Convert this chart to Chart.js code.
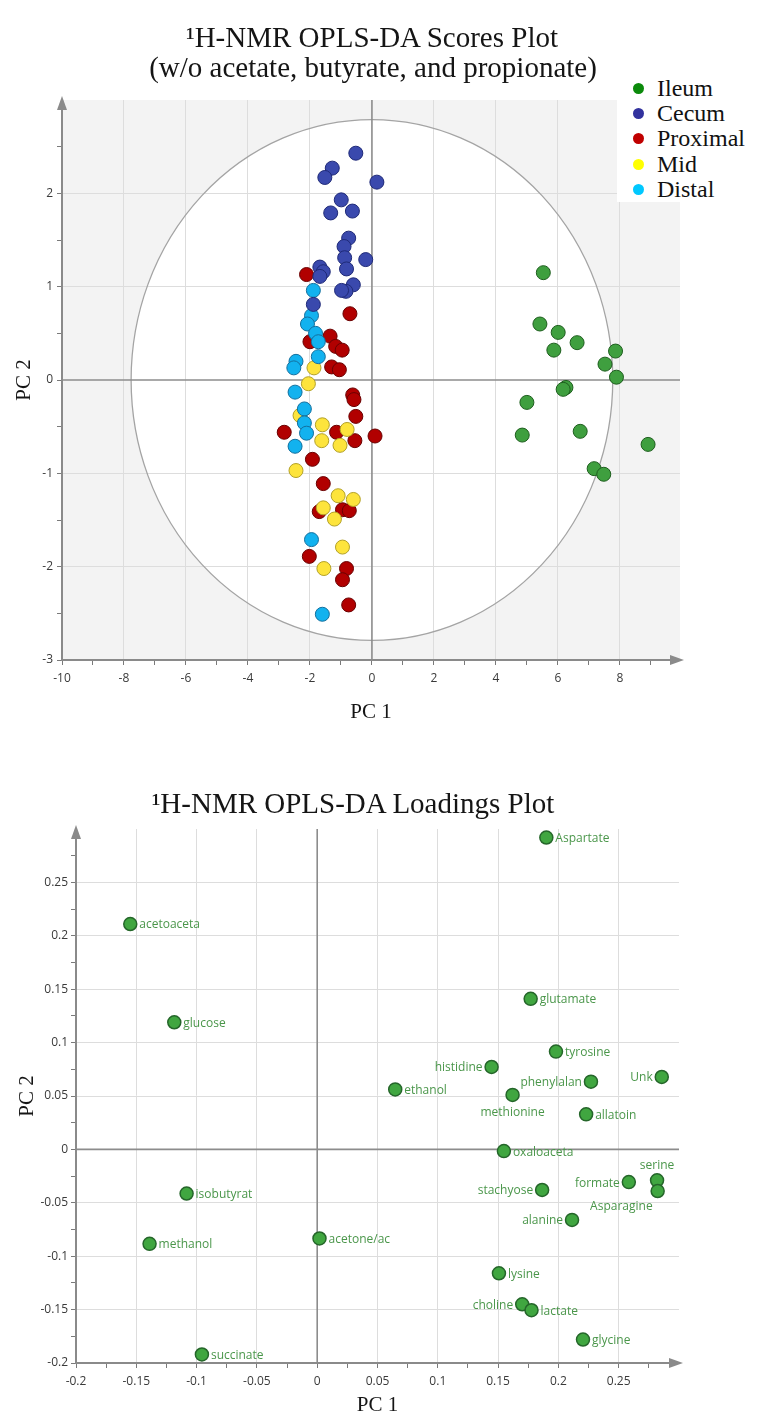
<!DOCTYPE html>
<html><head><meta charset="utf-8">
<script src="https://cdn.jsdelivr.net/npm/chart.js@4.4.1/dist/chart.umd.min.js"></script>
<style>
html,body{margin:0;padding:0;background:#fff;}
body{width:763px;height:1420px;position:relative;overflow:hidden;font-family:'Liberation Serif','Times New Roman',serif;color:#111;}
.wrap{position:absolute;left:0;width:763px;}
#w1{top:0;height:725px;}
#w2{top:725px;height:695px;}
.ttl{position:absolute;text-align:center;font-size:29px;line-height:30px;white-space:nowrap;color:#151515;}
#legend{position:absolute;left:617px;top:74px;width:136px;height:128px;background:#fff;}
.li{position:absolute;left:0;height:25px;font-size:24px;line-height:25px;}
.dot{position:absolute;left:16px;top:7px;width:11px;height:11px;border-radius:50%;}
.lt{position:absolute;left:40px;top:0;}
</style>
</head><body>
<div class="wrap" id="w1"><canvas id="c1" width="763" height="725"></canvas></div>
<div class="wrap" id="w2"><canvas id="c2" width="763" height="695"></canvas></div>
<div class="ttl" style="left:0;width:744px;top:22px;">¹H-NMR OPLS-DA Scores Plot</div>
<div class="ttl" style="left:0;width:746px;top:52px;">(w/o acetate, butyrate, and propionate)</div>
<div class="ttl" style="left:0;width:706px;top:788px;">¹H-NMR OPLS-DA Loadings Plot</div>
<div id="legend"></div>
<script>
// ---------- Scores plot data (PC1, PC2) ----------
const groupNames = ['Ileum','Cecum','Proximal','Mid','Distal'];
const ileumX = [5.53,5.42,6.01,6.62,5.87,7.86,7.52,7.89,6.26,6.17,5.00,4.85,6.72,8.91,7.17,7.48];
const ileumY = [1.15,0.60,0.51,0.40,0.32,0.31,0.17,0.03,-0.08,-0.10,-0.24,-0.59,-0.55,-0.69,-0.95,-1.01];
const cecumX = [-0.52,-1.28,-1.52,0.16,-0.99,-0.63,-1.33,-0.75,-0.90,-0.88,-0.20,-0.82,-1.68,-1.57,-1.68,-0.60,-0.84,-0.98,-1.89];
const cecumY = [2.43,2.27,2.17,2.12,1.93,1.81,1.79,1.52,1.43,1.31,1.29,1.19,1.21,1.16,1.11,1.02,0.95,0.96,0.81];
const proxX = [-2.11,-0.71,-1.35,-2.00,-1.17,-0.96,-1.30,-1.05,-0.62,-0.58,-0.52,-2.83,-1.14,-0.55,0.10,-1.92,-1.57,-1.70,-0.95,-0.73,-2.02,-0.82,-0.95,-0.75];
const proxY = [1.13,0.71,0.47,0.41,0.36,0.32,0.14,0.11,-0.16,-0.21,-0.39,-0.56,-0.56,-0.65,-0.60,-0.85,-1.11,-1.41,-1.39,-1.40,-1.89,-2.02,-2.14,-2.41];
const midX = [-1.87,-2.05,-2.32,-1.60,-0.80,-1.62,-1.03,-2.45,-1.09,-0.60,-1.57,-1.21,-0.95,-1.55];
const midY = [0.13,-0.04,-0.38,-0.48,-0.53,-0.65,-0.70,-0.97,-1.24,-1.28,-1.37,-1.49,-1.79,-2.02];
const distX = [-1.89,-1.95,-2.08,-1.82,-1.73,-1.73,-2.45,-2.52,-2.48,-2.18,-2.18,-2.11,-2.48,-1.95,-1.60];
const distY = [0.96,0.69,0.60,0.50,0.41,0.25,0.20,0.13,-0.13,-0.31,-0.46,-0.57,-0.71,-1.71,-2.51];
// Hotelling ellipse semi-axes (PC1, PC2)
const ellipseA = 7.77, ellipseB = 2.79;
const scoresXTicks = [-10,-8,-6,-4,-2,0,2,4,6,8];
const scoresYTicks = [-3,-2,-1,0,1,2];

// ---------- Loadings plot data ----------
const metNames = ['acetoaceta','glucose','Aspartate','glutamate','tyrosine','histidine','phenylalan','Unk','ethanol','methionine','allatoin','oxaloaceta','serine','Asparagine','formate','stachyose','alanine','lysine','choline','lactate','glycine','isobutyrat','methanol','acetone/ac','succinate'];
const loadX = [-0.155,-0.1185,0.190,0.177,0.198,0.1446,0.227,0.2857,0.0647,0.162,0.223,0.1548,0.2818,0.2823,0.2584,0.1865,0.2113,0.1507,0.170,0.1777,0.2204,-0.1083,-0.139,0.0019,-0.0956];
const loadY = [0.211,0.119,0.292,0.141,0.0916,0.0772,0.0634,0.0678,0.0562,0.051,0.0328,-0.0016,-0.029,-0.039,-0.0306,-0.038,-0.066,-0.116,-0.145,-0.1506,-0.178,-0.0413,-0.0884,-0.0834,-0.192];
const labelSide = ['R','R','R','R','R','L','L','L','R','B','R','R','A','BL','L','L','L','R','L','R','R','R','R','R','R'];
const loadXTicks = [-0.2,-0.15,-0.1,-0.05,0,0.05,0.1,0.15,0.2,0.25];
const loadYTicks = [-0.2,-0.15,-0.1,-0.05,0,0.05,0.1,0.15,0.2,0.25];

// ---------- styles ----------
const groupStyle = {
  Ileum:    {fill:'#3f9f3f', border:'#1e5e1e', legend:'#0b8a0b'},
  Cecum:    {fill:'#3a49ad', border:'#1f2a78', legend:'#32329e'},
  Proximal: {fill:'#b10000', border:'#6a0000', legend:'#c00000'},
  Mid:      {fill:'#fde43c', border:'#b3a128', legend:'#ffff00'},
  Distal:   {fill:'#12b2ef', border:'#14709e', legend:'#00c8ff'}
};
const groupX = {Ileum:ileumX, Cecum:cecumX, Proximal:proxX, Mid:midX, Distal:distX};
const groupY = {Ileum:ileumY, Cecum:cecumY, Proximal:proxY, Mid:midY, Distal:distY};
const drawOrder = {Cecum:1, Distal:2, Mid:3, Proximal:4, Ileum:5};

// legend (HTML)
const lg = document.getElementById('legend');
groupNames.forEach((g,i)=>{
  const d = document.createElement('div'); d.className='li'; d.style.top=(2+i*25.2)+'px';
  d.innerHTML = '<span class="dot" style="background:'+groupStyle[g].legend+'"></span><span class="lt">'+g+'</span>';
  lg.appendChild(d);
});

function pts(xs, ys){ return xs.map((x,i)=>({x:x, y:ys[i]})); }
function r3(v){ return Math.round(v*1000)/1000; }
function tickRange(min, max, step){ const out=[]; const n=Math.round((max-min)/step); for(let i=0;i<=n;i++) out.push(r3(min+i*step)); return out; }

const TICK_FONT = {family:"'Open Sans', 'DejaVu Sans', sans-serif", size:12};
const AX_TITLE_FONT = {family:"'Liberation Serif', serif", size:21, lineHeight:1.2};

const axesPlugin = {
  id:'axesDeco',
  beforeDraw(chart, args, opts){
    if(!opts.ellipse) return;
    const {ctx, chartArea:a, scales:{x,y}} = chart;
    ctx.save();
    ctx.fillStyle = '#f3f3f3';
    ctx.fillRect(a.left, a.top, a.right-a.left, a.bottom-a.top);
    const cx = x.getPixelForValue(0), cy = y.getPixelForValue(0);
    const rx = x.getPixelForValue(ellipseA)-cx, ry = cy-y.getPixelForValue(ellipseB);
    ctx.beginPath(); ctx.ellipse(cx,cy,rx,ry,0,0,Math.PI*2);
    ctx.fillStyle = '#ffffff'; ctx.fill();
    ctx.restore();
  },
  beforeDatasetsDraw(chart, args, opts){
    const {ctx, chartArea:a, scales:{x,y}} = chart;
    ctx.save();
    if(opts.ellipse){
      const cx = x.getPixelForValue(0), cy = y.getPixelForValue(0);
      const rx = x.getPixelForValue(ellipseA)-cx, ry = cy-y.getPixelForValue(ellipseB);
      ctx.beginPath(); ctx.ellipse(cx,cy,rx,ry,0,0,Math.PI*2);
      ctx.strokeStyle = '#a4a4a4'; ctx.lineWidth = 1.3; ctx.stroke();
    }
    // zero lines
    ctx.strokeStyle = '#8c8c8c'; ctx.lineWidth = 1.6;
    const zx = x.getPixelForValue(0), zy = y.getPixelForValue(0);
    ctx.beginPath(); ctx.moveTo(zx, a.top); ctx.lineTo(zx, a.bottom); ctx.stroke();
    ctx.beginPath(); ctx.moveTo(a.left, zy); ctx.lineTo(a.right, zy); ctx.stroke();
    ctx.restore();
  },
  afterDraw(chart){
    const {ctx, chartArea:a} = chart;
    ctx.save();
    ctx.fillStyle = '#8a8a8a'; ctx.strokeStyle = '#8a8a8a'; ctx.lineWidth = 2;
    // x-axis arrow
    ctx.beginPath(); ctx.moveTo(a.left, a.bottom); ctx.lineTo(a.right-4, a.bottom); ctx.stroke();
    ctx.beginPath(); ctx.moveTo(a.right+4, a.bottom); ctx.lineTo(a.right-10, a.bottom-5); ctx.lineTo(a.right-10, a.bottom+5); ctx.closePath(); ctx.fill();
    // y-axis arrow
    ctx.beginPath(); ctx.moveTo(a.left, a.bottom); ctx.lineTo(a.left, a.top+4); ctx.stroke();
    ctx.beginPath(); ctx.moveTo(a.left, a.top-4); ctx.lineTo(a.left-5, a.top+10); ctx.lineTo(a.left+5, a.top+10); ctx.closePath(); ctx.fill();
    ctx.restore();
  }
};

const labelPlugin = {
  id:'ptLabels',
  afterDatasetsDraw(chart, args, opts){
    if(!opts.show) return;
    const {ctx} = chart;
    const meta = chart.getDatasetMeta(0);
    ctx.save();
    ctx.font = "12px 'Open Sans', 'DejaVu Sans', sans-serif";
    ctx.fillStyle = '#4a964a';
    ctx.textBaseline = 'middle';
    meta.data.forEach((el,i)=>{
      const name = metNames[i], side = labelSide[i];
      const px = el.x, py = el.y;
      if(side==='R'){ ctx.textAlign='left'; ctx.fillText(name, px+9, py+1); }
      else if(side==='L'){ ctx.textAlign='right'; ctx.fillText(name, px-9, py+1); }
      else if(side==='B'){ ctx.textAlign='center'; ctx.fillText(name, px, py+18); }
      else if(side==='A'){ ctx.textAlign='center'; ctx.fillText(name, px, py-15); }
      else if(side==='BL'){ ctx.textAlign='right'; ctx.fillText(name, px-5, py+16); }
    });
    ctx.restore();
  }
};

function makeScale(opts){
  const labeled = opts.labels;
  return {
    type:'linear', min:opts.min, max:opts.max,
    afterBuildTicks: s => { s.ticks = opts.all.map(v=>({value:v})); },
    afterFit: s => { if(opts.width!==undefined) s.width = opts.width; if(opts.height!==undefined) s.height = opts.height; },
    ticks:{
      autoSkip:false, maxRotation:0, minRotation:0, color:'#3a3a3a', font:TICK_FONT, padding:opts.tpad,
      callback: v => labeled.some(t=>Math.abs(t-v)<1e-9) ? String(r3(v)) : ''
    },
    grid:{
      color: c => (c.tick && labeled.some(t=>Math.abs(t-c.tick.value)<1e-9) && Math.abs(c.tick.value)>1e-9) ? '#dddddd' : 'rgba(0,0,0,0)',
      tickColor: '#7a7a7a', tickLength:5, lineWidth:1, drawTicks:true
    },
    border:{display:true, color:'#8a8a8a', width:2},
    title:{display:true, text:opts.title, color:'#151515', font:AX_TITLE_FONT, padding:opts.titlePad}
  };
}

// ---------- Chart 1: scores ----------
const scoreDatasets = groupNames.map(g=>({
  label:g, data:pts(groupX[g], groupY[g]), order:drawOrder[g],
  backgroundColor:groupStyle[g].fill, borderColor:groupStyle[g].border,
  borderWidth:1, pointRadius:7, pointHoverRadius:7
}));
new Chart(document.getElementById('c1'), {
  type:'scatter',
  data:{datasets:scoreDatasets},
  options:{
    responsive:false, animation:false, events:[],
    layout:{padding:{top:100, right:83, left:0, bottom:0}},
    plugins:{legend:{display:false}, tooltip:{enabled:false}, title:{display:false}, axesDeco:{ellipse:true}, ptLabels:{show:false}},
    scales:{
      x: makeScale({min:-10, max:9.94, all:tickRange(-10,9,1), labels:scoresXTicks, height:65, tpad:6, title:'PC 1', titlePad:{top:0,bottom:0.4}}),
      y: makeScale({min:-3, max:3, all:tickRange(-3,2.5,0.5), labels:scoresYTicks, width:62, tpad:4, title:'PC 2', titlePad:{top:12,bottom:0}})
    }
  },
  plugins:[axesPlugin, labelPlugin]
});

// ---------- Chart 2: loadings ----------
new Chart(document.getElementById('c2'), {
  type:'scatter',
  data:{datasets:[{
    label:'Loadings', data:pts(loadX, loadY),
    backgroundColor:'#40a640', borderColor:'#25662a', borderWidth:1.5, pointRadius:6.5, pointHoverRadius:6.5
  }]},
  options:{
    responsive:false, animation:false, events:[],
    layout:{padding:{top:104, right:84, left:0, bottom:0}},
    plugins:{legend:{display:false}, tooltip:{enabled:false}, title:{display:false}, axesDeco:{ellipse:false}, ptLabels:{show:true}},
    scales:{
      x: makeScale({min:-0.2, max:0.3, all:tickRange(-0.2,0.275,0.025), labels:loadXTicks, height:57, tpad:6, title:'PC 1', titlePad:{top:0,bottom:2.4}}),
      y: makeScale({min:-0.2, max:0.3, all:tickRange(-0.2,0.275,0.025), labels:loadYTicks, width:76, tpad:3, title:'PC 2', titlePad:{top:15,bottom:0}})
    }
  },
  plugins:[axesPlugin, labelPlugin]
});
</script>
</body></html>
